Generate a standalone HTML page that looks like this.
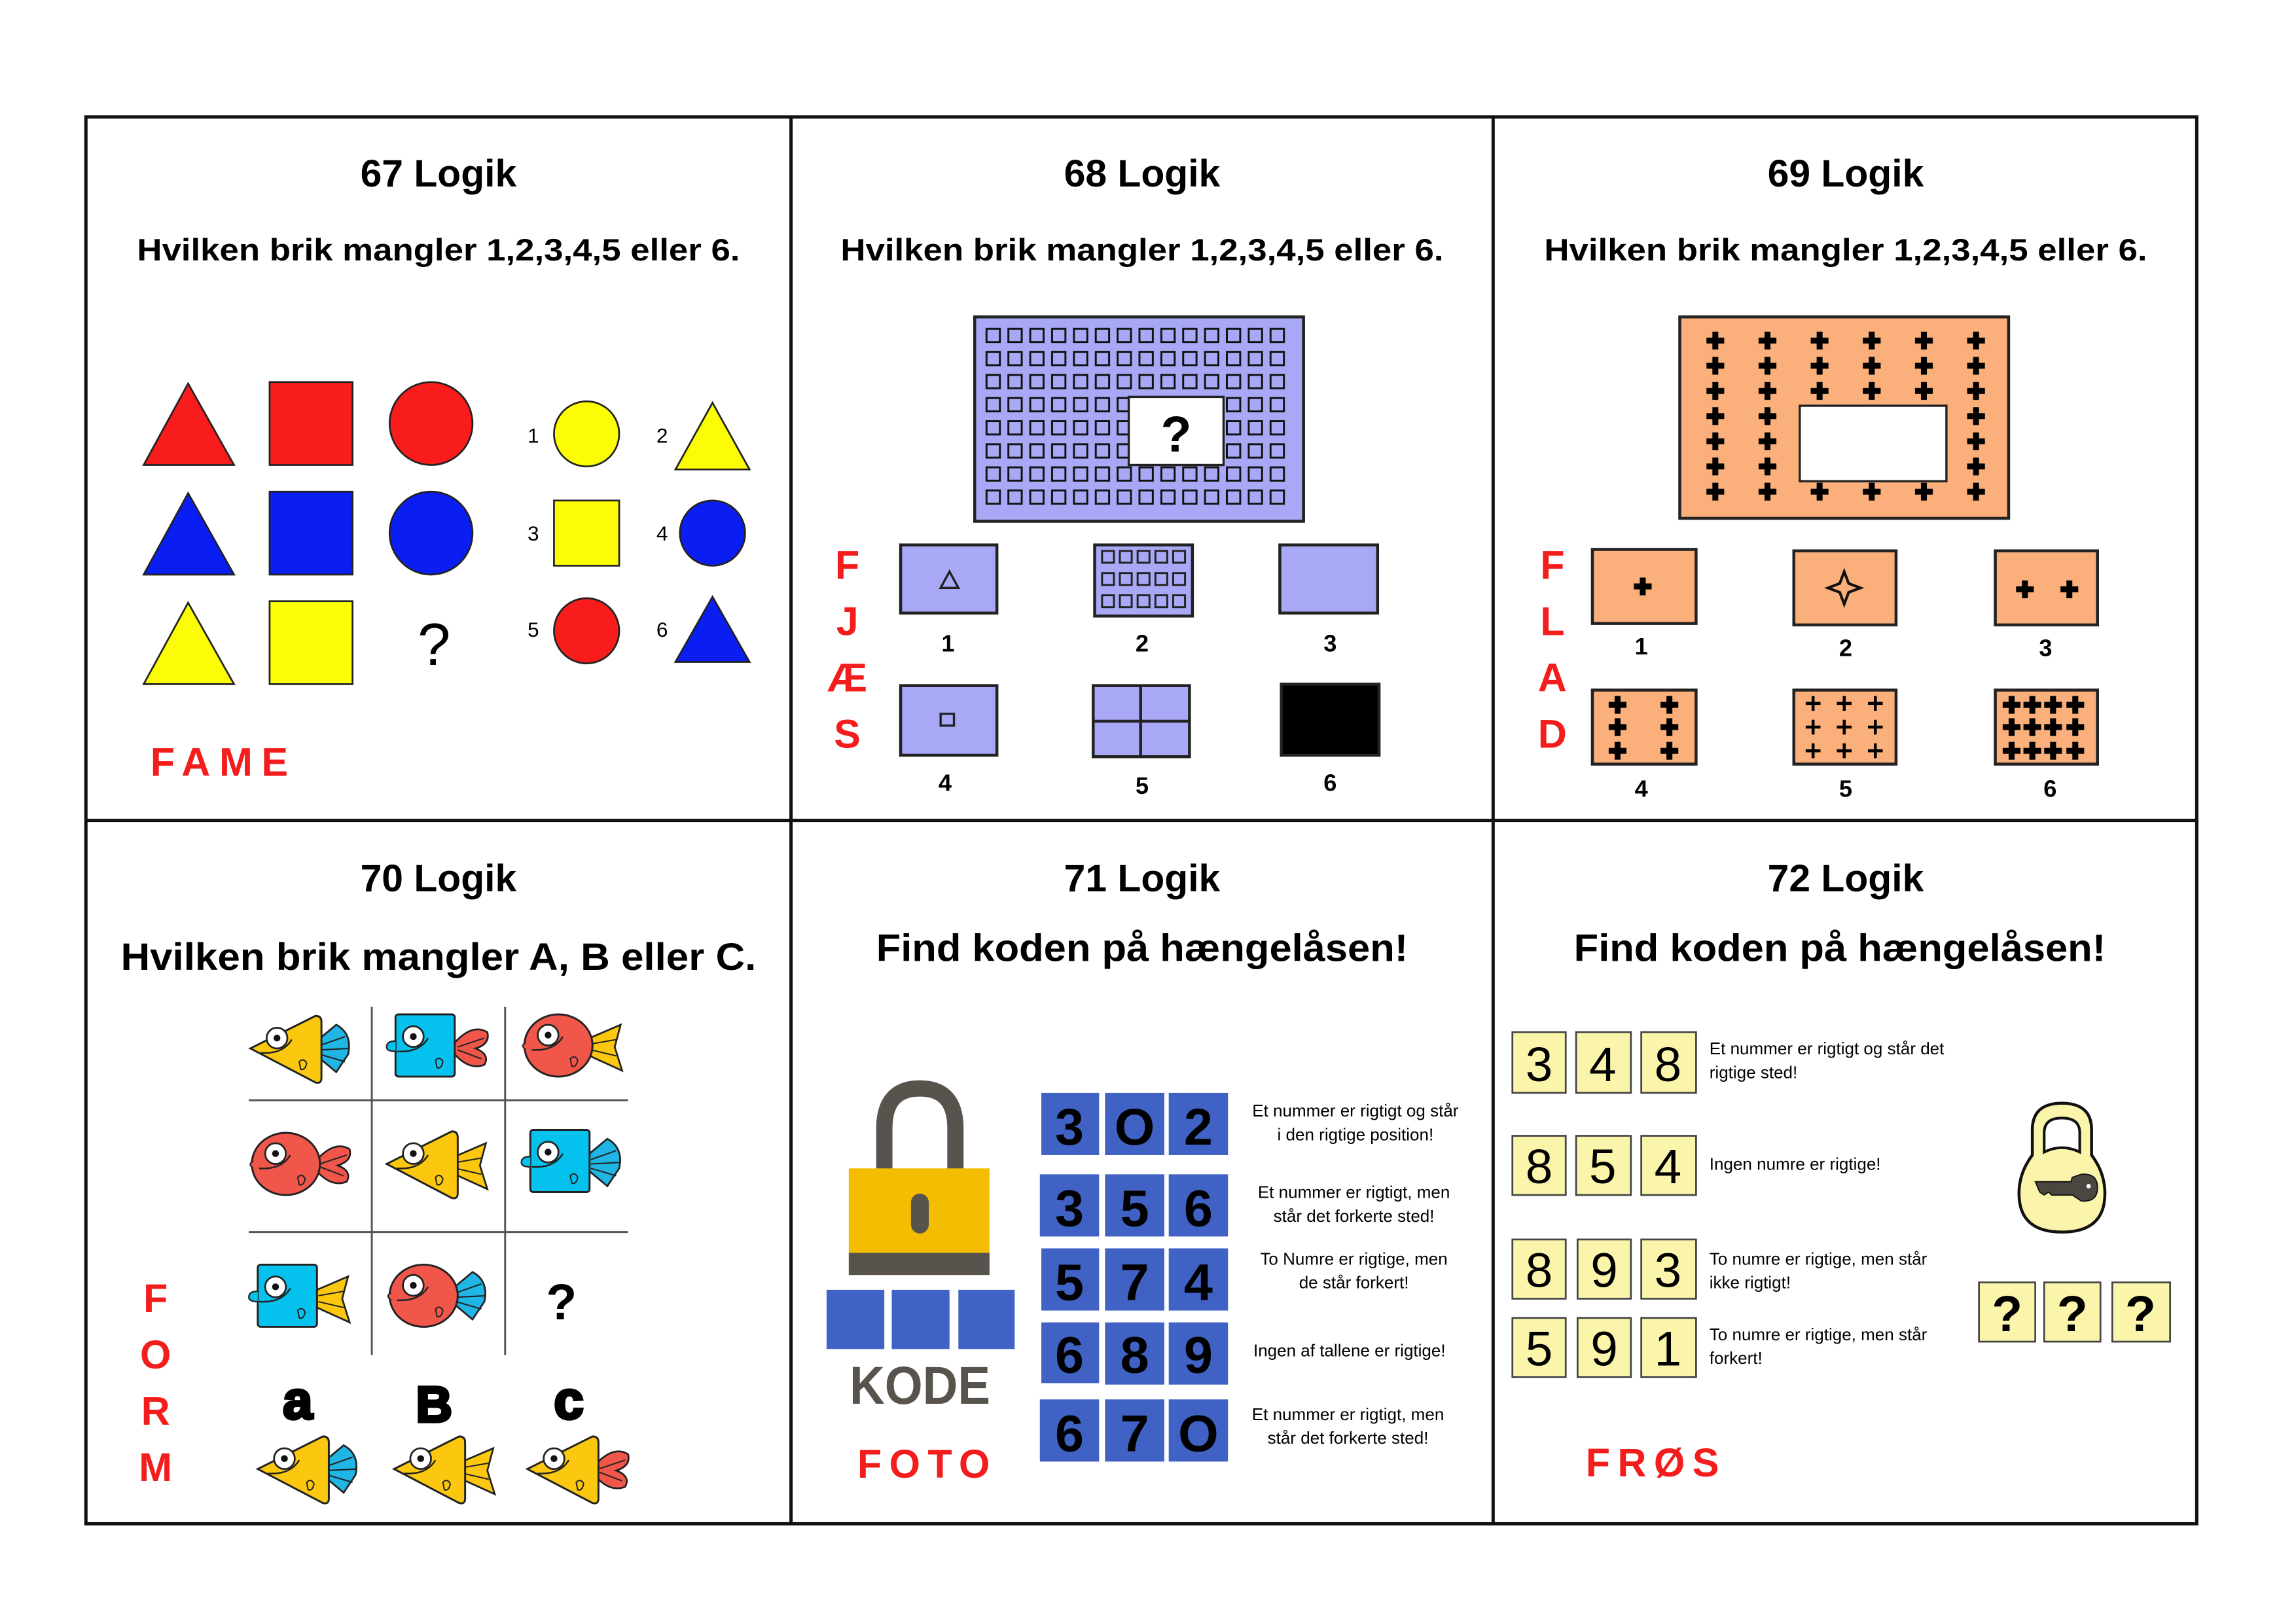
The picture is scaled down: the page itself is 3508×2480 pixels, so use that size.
<!DOCTYPE html>
<html><head><meta charset="utf-8"><style>
html,body{margin:0;padding:0;background:#fff}
svg{display:block}
text{font-family:"Liberation Sans",sans-serif}
.t{font-weight:bold;font-size:26px;text-anchor:middle}
.s{font-weight:bold;font-size:21px;text-anchor:middle}
.r{fill:#f31d1d;font-weight:bold;font-size:27px;text-anchor:middle}
.n{font-weight:bold;font-size:16px;text-anchor:middle}
.sm{font-size:14px;text-anchor:middle}
.bd{font-weight:bold;font-size:35px;text-anchor:middle}
.yd{font-size:33px;text-anchor:middle}
.c1{font-size:11.5px;text-anchor:middle}
.c2{font-size:11.5px}
</style></head><body>
<svg width="3508" height="2480" viewBox="0 0 1550 1096" preserveAspectRatio="none" xmlns="http://www.w3.org/2000/svg">
<defs>
<pattern id="pg" patternUnits="userSpaceOnUse" x="664" y="220" width="14.75" height="15.6">
<rect x="2" y="2" width="9" height="9" fill="none" stroke="#111" stroke-width="1.3"/>
</pattern>
<path id="cr" d="M-2,-6h4v4h4v4h-4v4h-4v-4h-4v-4h4z" fill="#000"/>
<path id="cs" d="M-1,-5h2v4h4v2h-4v4h-2v-4h-4v-2h4z" fill="#000"/>
<pattern id="pc" patternUnits="userSpaceOnUse" x="1140.4" y="221.5" width="35.2" height="17">
<use href="#cr" x="17.6" y="8.5"/>
</pattern>
<g id="ftri"><path d="M2,24 L46,2 Q50,2 50,6 L50,44 Q50,48 46,47 Z" fill="#fbc70f" stroke="#222" stroke-width="1.3"/></g>
<g id="fsq"><rect x="8" y="2" width="40" height="42" rx="2" fill="#05c1ee" stroke="#222" stroke-width="1.3"/><path d="M8,20 Q2,20 2,24 Q2,27 8,27" fill="#05c1ee" stroke="#222" stroke-width="1"/></g>
<g id="fci"><ellipse cx="27" cy="24" rx="23" ry="21" fill="#f1564a" stroke="#222" stroke-width="1.3"/><path d="M5,22 Q1,24 5,27" fill="#f1564a" stroke="#222" stroke-width="1"/></g>
<g id="eye"><circle cx="20" cy="17" r="7" fill="#fff" stroke="#222" stroke-width="1.2"/><circle cx="20" cy="17" r="2.3" fill="#111"/><path d="M9,27 Q24,28 30,18" fill="none" stroke="#222" stroke-width="1.1"/><path d="M35,33 q3,-3 5,1 q-1,5 -4,4 z" fill="none" stroke="#222" stroke-width="0.9"/></g>
<g id="tfan"><path d="M48,18 L60,8 Q71,14 68,28 L60,40 L48,30 Z" fill="#1fb5e4" stroke="#222" stroke-width="1.2"/><path d="M49,22 L66,16 M49,25 L69,24 M49,28 L66,33" stroke="#222" stroke-width="0.9"/></g>
<g id="tfork"><path d="M48,19 L69,10 L65,25 L70,41 L48,31 Z" fill="#fbc70f" stroke="#222" stroke-width="1.2"/><path d="M49,23 L66,20 M49,27 L66,31" stroke="#222" stroke-width="0.9"/></g>
<g id="theart"><path d="M48,21 Q60,8 70,14 Q72,22 62,25 Q72,29 68,36 Q58,40 48,29 Z" fill="#f1564a" stroke="#222" stroke-width="1.2"/><path d="M50,24 L68,18 M50,26 L66,32" stroke="#222" stroke-width="0.9"/></g>
</defs>

<rect x="58" y="79" width="1425" height="950" fill="none" stroke="#111" stroke-width="2.2"/>
<line x1="534" y1="79" x2="534" y2="1029" stroke="#111" stroke-width="2.2"/>
<line x1="1008" y1="79" x2="1008" y2="1029" stroke="#111" stroke-width="2.2"/>
<line x1="58" y1="554" x2="1483" y2="554" stroke="#111" stroke-width="2.2"/>

<!-- 67 -->
<text class="t" x="296" y="126">67 Logik</text>
<text class="s" x="296" y="176" textLength="407" lengthAdjust="spacingAndGlyphs">Hvilken brik mangler 1,2,3,4,5 eller 6.</text>
<g stroke="#222" stroke-width="1.2">
<polygon points="97,314 127,259 158,314" fill="#f81c1c"/>
<rect x="182" y="258" width="56" height="56" fill="#f81c1c"/>
<circle cx="291" cy="286" r="28" fill="#f81c1c"/>
<polygon points="97,388 127,333 158,388" fill="#0a1ef4"/>
<rect x="182" y="332" width="56" height="56" fill="#0a1ef4"/>
<circle cx="291" cy="360" r="28" fill="#0a1ef4"/>
<polygon points="97,462 127,407 158,462" fill="#fcfc05"/>
<rect x="182" y="406" width="56" height="56" fill="#fcfc05"/>
<circle cx="396" cy="293" r="22" fill="#fcfc05"/>
<polygon points="456,317 481,272 506,317" fill="#fcfc05"/>
<rect x="374" y="338" width="44" height="44" fill="#fcfc05"/>
<circle cx="481" cy="360" r="22" fill="#0a1ef4"/>
<circle cx="396" cy="426" r="22" fill="#f81c1c"/>
<polygon points="456,447 481,403 506,447" fill="#0a1ef4"/>
</g>
<text x="293" y="449" font-size="40" text-anchor="middle">?</text>
<text class="sm" x="360" y="299">1</text><text class="sm" x="447" y="299">2</text>
<text class="sm" x="360" y="365">3</text><text class="sm" x="447" y="365">4</text>
<text class="sm" x="360" y="430">5</text><text class="sm" x="447" y="430">6</text>
<text class="r" x="151" y="524" letter-spacing="6">FAME</text>

<!-- 68 -->
<text class="t" x="771" y="126">68 Logik</text>
<text class="s" x="771" y="176" textLength="407" lengthAdjust="spacingAndGlyphs">Hvilken brik mangler 1,2,3,4,5 eller 6.</text>
<rect x="658" y="214" width="222" height="138" fill="#a8a8f6" stroke="#222" stroke-width="2"/>
<rect x="664" y="220" width="206" height="125" fill="url(#pg)"/>
<rect x="762" y="268" width="64" height="46" fill="#fff" stroke="#222" stroke-width="1.5"/>
<text x="794" y="305" font-size="34" font-weight="bold" text-anchor="middle">?</text>
<g stroke="#222" stroke-width="2" fill="#a8a8f6">
<rect x="608" y="368" width="65" height="46"/>
<rect x="739" y="368" width="66" height="48"/>
<rect x="864" y="368" width="66" height="46"/>
<rect x="608" y="463" width="65" height="47"/>
<rect x="738" y="463" width="65" height="48"/>
<rect x="865" y="462" width="66" height="48" fill="#000"/>
<polygon points="635,397 641,386 647,397" fill="none" stroke-width="1.5"/>
<rect x="635" y="482" width="9" height="8" fill="none" stroke-width="1.5"/>
<line x1="770" y1="463" x2="770" y2="511"/><line x1="738" y1="487" x2="803" y2="487"/>
</g>
<g fill="none" stroke="#222" stroke-width="1.3">
<rect x="744" y="372" width="8" height="8"/><rect x="756" y="372" width="8" height="8"/><rect x="768" y="372" width="8" height="8"/><rect x="780" y="372" width="8" height="8"/><rect x="792" y="372" width="8" height="8"/>
<rect x="744" y="387" width="8" height="8"/><rect x="756" y="387" width="8" height="8"/><rect x="768" y="387" width="8" height="8"/><rect x="780" y="387" width="8" height="8"/><rect x="792" y="387" width="8" height="8"/>
<rect x="744" y="402" width="8" height="8"/><rect x="756" y="402" width="8" height="8"/><rect x="768" y="402" width="8" height="8"/><rect x="780" y="402" width="8" height="8"/><rect x="792" y="402" width="8" height="8"/>
</g>
<text class="n" x="640" y="440">1</text><text class="n" x="771" y="440">2</text><text class="n" x="898" y="440">3</text>
<text class="n" x="638" y="534">4</text><text class="n" x="771" y="536">5</text><text class="n" x="898" y="534">6</text>
<text class="r" x="572" y="391">F</text><text class="r" x="572" y="429">J</text><text class="r" x="572" y="467">Æ</text><text class="r" x="572" y="505">S</text>

<!-- 69 -->
<text class="t" x="1246" y="126">69 Logik</text>
<text class="s" x="1246" y="176" textLength="407" lengthAdjust="spacingAndGlyphs">Hvilken brik mangler 1,2,3,4,5 eller 6.</text>
<rect x="1134" y="214" width="222" height="136" fill="#fbb07c" stroke="#222" stroke-width="2"/>
<rect x="1140" y="221" width="212" height="120" fill="url(#pc)"/>
<rect x="1215" y="274" width="99" height="51" fill="#fff" stroke="#222" stroke-width="1.5"/>
<g stroke="#222" stroke-width="2" fill="#fbb07c">
<rect x="1075" y="371" width="70" height="50"/>
<rect x="1211" y="372" width="69" height="50"/>
<rect x="1347" y="372" width="69" height="50"/>
<rect x="1075" y="466" width="70" height="50"/>
<rect x="1211" y="466" width="69" height="50"/>
<rect x="1347" y="466" width="69" height="50"/>
</g>
<use href="#cr" x="1109" y="396"/>
<path d="M1245,386 L1248,394 L1256,397 L1248,400 L1245,408 L1242,400 L1234,397 L1242,394 Z" fill="none" stroke="#111" stroke-width="1.8"/>
<use href="#cr" x="1367" y="398"/><use href="#cr" x="1397" y="398"/>
<use href="#cr" x="1092" y="476"/><use href="#cr" x="1127" y="476"/><use href="#cr" x="1092" y="491"/><use href="#cr" x="1127" y="491"/><use href="#cr" x="1092" y="507"/><use href="#cr" x="1127" y="507"/>
<use href="#cs" x="1224" y="475"/><use href="#cs" x="1245" y="475"/><use href="#cs" x="1266" y="475"/>
<use href="#cs" x="1224" y="491"/><use href="#cs" x="1245" y="491"/><use href="#cs" x="1266" y="491"/>
<use href="#cs" x="1224" y="507"/><use href="#cs" x="1245" y="507"/><use href="#cs" x="1266" y="507"/>
<use href="#cr" x="1358" y="476"/><use href="#cr" x="1372" y="476"/><use href="#cr" x="1386" y="476"/><use href="#cr" x="1401" y="476"/>
<use href="#cr" x="1358" y="491"/><use href="#cr" x="1372" y="491"/><use href="#cr" x="1386" y="491"/><use href="#cr" x="1401" y="491"/>
<use href="#cr" x="1358" y="507"/><use href="#cr" x="1372" y="507"/><use href="#cr" x="1386" y="507"/><use href="#cr" x="1401" y="507"/>
<text class="n" x="1108" y="442">1</text><text class="n" x="1246" y="443">2</text><text class="n" x="1381" y="443">3</text>
<text class="n" x="1108" y="538">4</text><text class="n" x="1246" y="538">5</text><text class="n" x="1384" y="538">6</text>
<text class="r" x="1048" y="391">F</text><text class="r" x="1048" y="429">L</text><text class="r" x="1048" y="467">A</text><text class="r" x="1048" y="505">D</text>

<!-- 70 -->
<text class="t" x="296" y="602">70 Logik</text>
<text class="t" x="296" y="655" textLength="429" lengthAdjust="spacingAndGlyphs">Hvilken brik mangler A, B eller C.</text>
<g stroke="#555" stroke-width="1.3">
<line x1="168" y1="743" x2="424" y2="743"/><line x1="168" y1="832" x2="424" y2="832"/>
<line x1="251" y1="680" x2="251" y2="915"/><line x1="341" y1="680" x2="341" y2="915"/>
</g>
<g transform="translate(167,684)"><use href="#tfan"/><use href="#ftri"/><use href="#eye"/></g>
<g transform="translate(259,683)"><use href="#theart"/><use href="#fsq"/><use href="#eye"/></g>
<g transform="translate(350,682)"><use href="#tfork"/><use href="#fci"/><use href="#eye"/></g>
<g transform="translate(166,762)"><use href="#theart"/><use href="#fci"/><use href="#eye"/></g>
<g transform="translate(259,762)"><use href="#tfork"/><use href="#ftri"/><use href="#eye"/></g>
<g transform="translate(350,761)"><use href="#tfan"/><use href="#fsq"/><use href="#eye"/></g>
<g transform="translate(166,852)"><use href="#tfork"/><use href="#fsq"/><use href="#eye"/></g>
<g transform="translate(259,851)"><use href="#tfan"/><use href="#fci"/><use href="#eye"/></g>
<text x="379" y="891" font-size="34" font-weight="bold" text-anchor="middle">?</text>
<text x="201" y="958" font-size="36" font-weight="900" text-anchor="middle" stroke="#000" stroke-width="2">a</text>
<text x="293" y="960" font-size="34" font-weight="900" text-anchor="middle" stroke="#000" stroke-width="2">B</text>
<text x="384" y="958" font-size="36" font-weight="900" text-anchor="middle" stroke="#000" stroke-width="2">c</text>
<g transform="translate(172,968)"><use href="#tfan"/><use href="#ftri"/><use href="#eye"/></g>
<g transform="translate(264,968)"><use href="#tfork"/><use href="#ftri"/><use href="#eye"/></g>
<g transform="translate(354,968)"><use href="#theart"/><use href="#ftri"/><use href="#eye"/></g>
<text class="r" x="105" y="886">F</text><text class="r" x="105" y="924">O</text><text class="r" x="105" y="962">R</text><text class="r" x="105" y="1000">M</text>

<!-- 71 -->
<text class="t" x="771" y="602">71 Logik</text>
<text class="t" x="771" y="649" textLength="359" lengthAdjust="spacingAndGlyphs">Find koden på hængelåsen!</text>
<path d="M597,790 L597,762 Q597,735 621,735 Q645,735 645,762 L645,790" fill="none" stroke="#58534d" stroke-width="11"/>
<rect x="573" y="789" width="95" height="57" fill="#f5bd00"/>
<rect x="573" y="846" width="95" height="15" fill="#58534d"/>
<rect x="615" y="806" width="12" height="27" rx="6" fill="#58534d"/>
<g fill="#4062c4">
<rect x="558" y="871" width="39" height="40"/><rect x="602" y="871" width="39" height="40"/><rect x="647" y="871" width="38" height="40"/>
<rect x="703" y="738" width="39" height="42"/><rect x="746" y="738" width="40" height="42"/><rect x="789" y="738" width="40" height="42"/>
<rect x="702" y="793" width="40" height="42"/><rect x="746" y="793" width="40" height="42"/><rect x="789" y="793" width="40" height="42"/>
<rect x="703" y="843" width="39" height="42"/><rect x="746" y="843" width="40" height="42"/><rect x="789" y="843" width="40" height="42"/>
<rect x="703" y="893" width="39" height="41"/><rect x="746" y="893" width="40" height="42"/><rect x="789" y="893" width="40" height="42"/>
<rect x="702" y="945" width="40" height="42"/><rect x="746" y="945" width="40" height="42"/><rect x="789" y="945" width="40" height="42"/>
</g>
<text x="621" y="948" font-size="36" font-weight="bold" fill="#58534d" text-anchor="middle" textLength="95" lengthAdjust="spacingAndGlyphs">KODE</text>
<text class="r" x="626" y="998" letter-spacing="5">FOTO</text>
<text class="bd" x="722" y="773">3</text><text class="bd" x="766" y="773">O</text><text class="bd" x="809" y="773">2</text>
<text class="bd" x="722" y="828">3</text><text class="bd" x="766" y="828">5</text><text class="bd" x="809" y="828">6</text>
<text class="bd" x="722" y="878">5</text><text class="bd" x="766" y="878">7</text><text class="bd" x="809" y="878">4</text>
<text class="bd" x="722" y="927">6</text><text class="bd" x="766" y="927">8</text><text class="bd" x="809" y="927">9</text>
<text class="bd" x="722" y="980">6</text><text class="bd" x="766" y="980">7</text><text class="bd" x="809" y="980">O</text>
<text class="c1" x="915" y="754">Et nummer er rigtigt og står</text>
<text class="c1" x="915" y="770">i den rigtige position!</text>
<text class="c1" x="914" y="809">Et nummer er rigtigt, men</text>
<text class="c1" x="914" y="825">står det forkerte sted!</text>
<text class="c1" x="914" y="854">To Numre er rigtige, men</text>
<text class="c1" x="914" y="870">de står forkert!</text>
<text class="c1" x="911" y="916">Ingen af tallene er rigtige!</text>
<text class="c1" x="910" y="959">Et nummer er rigtigt, men</text>
<text class="c1" x="910" y="975">står det forkerte sted!</text>

<!-- 72 -->
<text class="t" x="1246" y="602">72 Logik</text>
<text class="t" x="1242" y="649" textLength="359" lengthAdjust="spacingAndGlyphs">Find koden på hængelåsen!</text>
<g fill="#faf5aa" stroke="#444" stroke-width="1.2">
<rect x="1021" y="697" width="36" height="41"/><rect x="1064" y="697" width="37" height="41"/><rect x="1108" y="697" width="37" height="41"/>
<rect x="1021" y="767" width="36" height="40"/><rect x="1064" y="767" width="37" height="40"/><rect x="1108" y="767" width="37" height="40"/>
<rect x="1021" y="837" width="36" height="40"/><rect x="1065" y="837" width="36" height="40"/><rect x="1108" y="837" width="37" height="40"/>
<rect x="1021" y="890" width="36" height="40"/><rect x="1065" y="890" width="36" height="40"/><rect x="1108" y="890" width="37" height="40"/>
<rect x="1336" y="866" width="38" height="40"/><rect x="1380" y="866" width="38" height="40"/><rect x="1426" y="866" width="39" height="40"/>
</g>
<text class="yd" x="1039" y="730">3</text><text class="yd" x="1082" y="730">4</text><text class="yd" x="1126" y="730">8</text>
<text class="yd" x="1039" y="799">8</text><text class="yd" x="1082" y="799">5</text><text class="yd" x="1126" y="799">4</text>
<text class="yd" x="1039" y="869">8</text><text class="yd" x="1083" y="869">9</text><text class="yd" x="1126" y="869">3</text>
<text class="yd" x="1039" y="922">5</text><text class="yd" x="1083" y="922">9</text><text class="yd" x="1126" y="922">1</text>
<text x="1355" y="899" font-size="34" font-weight="bold" text-anchor="middle">?</text>
<text x="1399" y="899" font-size="34" font-weight="bold" text-anchor="middle">?</text>
<text x="1445" y="899" font-size="34" font-weight="bold" text-anchor="middle">?</text>
<text class="c2" x="1154" y="712">Et nummer er rigtigt og står det</text>
<text class="c2" x="1154" y="728">rigtige sted!</text>
<text class="c2" x="1154" y="790">Ingen numre er rigtige!</text>
<text class="c2" x="1154" y="854">To numre er rigtige, men står</text>
<text class="c2" x="1154" y="870">ikke rigtigt!</text>
<text class="c2" x="1154" y="905">To numre er rigtige, men står</text>
<text class="c2" x="1154" y="921">forkert!</text>
<path d="M1372,780 L1372,763 Q1372,745 1392,745 Q1412,745 1412,763 L1412,780 Q1421,792 1421,806 Q1421,832 1392,832 Q1363,832 1363,806 Q1363,792 1372,780 Z" fill="#faf5aa" stroke="#111" stroke-width="2"/>
<path d="M1380,778 L1380,765 Q1380,755 1392,755 Q1404,755 1404,765 L1404,778 Q1392,772 1380,778 Z" fill="#fff" stroke="#111" stroke-width="1.8"/>
<path d="M1374,798 L1398,798 L1399,795 L1405,793 Q1416,792 1416,802 Q1416,812 1405,811 L1399,807 L1385,807 L1383,805 L1380,807 L1377,805 Z" fill="#4a4740" stroke="#111" stroke-width="0.8"/>
<circle cx="1410" cy="801" r="1.5" fill="#fff"/>
<text class="r" x="1118" y="997" letter-spacing="5">FRØS</text>
</svg>
</body></html>
